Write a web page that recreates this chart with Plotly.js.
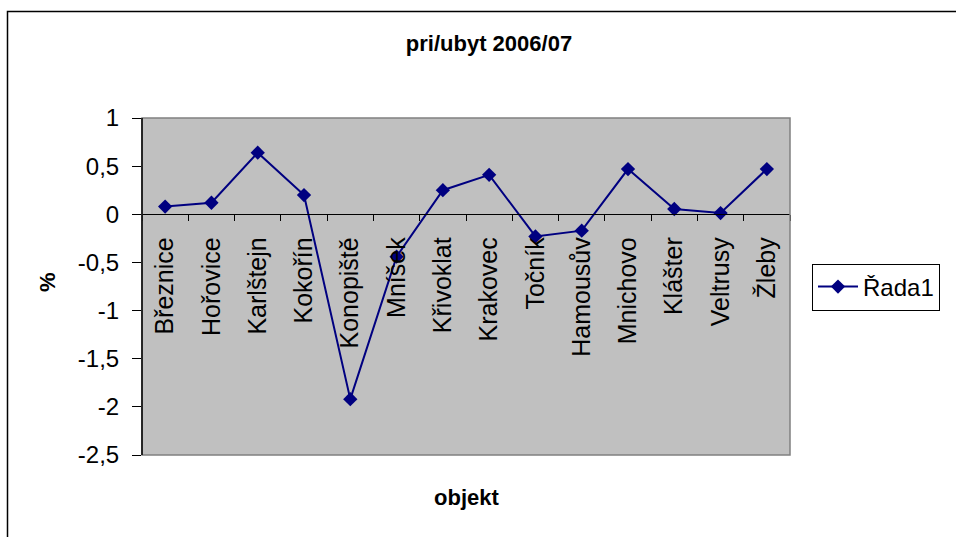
<!DOCTYPE html>
<html>
<head>
<meta charset="utf-8">
<script src="https://cdn.plot.ly/plotly-3.0.1.min.js"></script>
<style>html,body{margin:0;padding:0;background:#fff;}#chart{width:956px;height:537px;}</style>
</head>
<body>
<div id="chart"></div>
<script>
const categories = ["Březnice","Hořovice","Karlštejn","Kokořín","Konopiště","Mníšek","Křivoklat","Krakovec","Točník","Hamousův","Mnichovo","Klášter","Veltrusy","Žleby"];
const values = [0.08, 0.12, 0.64, 0.20, -1.92, -0.44, 0.25, 0.41, -0.23, -0.17, 0.47, 0.055, 0.013, 0.47];
const seriesName = "Řada1";
const yTickVals = [1, 0.5, 0, -0.5, -1, -1.5, -2, -2.5];
const yTickText = ["1", "0,5", "0", "-0,5", "-1", "-1,5", "-2", "-2,5"];
const titleText = "pri/ubyt 2006/07";
const xTitle = "objekt";
const yTitle = "%";

const W = 956, H = 537;
const L = 142, R = 790, T = 118, B = 455;
const pw = R - L, ph = B - T;
const px = x => (x - L) / pw;
const py = y => (B - y) / ph;
const yMin = -2.5, yMax = 1;
const FONT = "Liberation Sans, Arial, sans-serif";

const trace = {
  x: categories,
  y: values,
  type: "scatter",
  mode: "lines+markers",
  name: seriesName,
  line: {color: "#000080", width: 2},
  marker: {symbol: "diamond", size: 11, color: "#000080"}
};

const layout = {
  width: W, height: H,
  margin: {l: L, r: W - R, t: T, b: H - B, pad: 0},
  paper_bgcolor: "#ffffff",
  plot_bgcolor: "#c0c0c0",
  font: {family: FONT, color: "#000"},
  showlegend: true,
  title: {
    text: "<b>" + titleText + "</b>",
    font: {family: FONT, size: 22, color: "#000"},
    xref: "container", yref: "container",
    x: 489 / W, xanchor: "center",
    y: 1 - 43 / H, yanchor: "middle"
  },
  xaxis: {
    type: "category",
    range: [-0.5, categories.length - 0.5],
    anchor: "free",
    position: (0 - yMin) / (yMax - yMin),
    showline: true, linecolor: "#000", linewidth: 1,
    ticks: "outside", ticklen: 6, tickcolor: "#000", tickwidth: 1,
    tickson: "boundaries",
    tickangle: -90,
    ticklabelstandoff: 12,
    tickfont: {family: FONT, size: 25, color: "#000"},
    showgrid: false, zeroline: false,
    fixedrange: true
  },
  yaxis: {
    range: [yMin, yMax],
    tickvals: yTickVals,
    ticktext: yTickText,
    ticks: "outside", ticklen: 9, tickcolor: "#000", tickwidth: 1,
    ticklabelstandoff: 8,
    tickfont: {family: FONT, size: 24, color: "#000"},
    showline: false,
    showgrid: false, zeroline: false,
    fixedrange: true
  },
  legend: {
    x: px(812), xanchor: "left",
    y: py(287), yanchor: "middle",
    bgcolor: "#ffffff",
    bordercolor: "#000", borderwidth: 1,
    font: {family: FONT, size: 24, color: "#000"},
    itemwidth: 40
  },
  shapes: [
    {type: "rect", xref: "paper", yref: "paper", x0: 0, x1: 1, y0: 0, y1: 1,
     line: {color: "#808080", width: 1.5}, fillcolor: "rgba(0,0,0,0)", layer: "above"},
    {type: "line", xref: "paper", yref: "paper", x0: 0, x1: 0, y0: 0, y1: 1,
     line: {color: "#000", width: 1.5}, layer: "above"},
    {type: "rect", xref: "paper", yref: "paper", x0: px(7.5), x1: px(975), y0: py(560), y1: py(11.5),
     line: {color: "#000", width: 1.5}, fillcolor: "rgba(0,0,0,0)", layer: "above"}
  ],
  annotations: [
    {text: "<b>" + xTitle + "</b>", xref: "paper", yref: "paper", x: 0.5, y: py(497),
     xanchor: "center", yanchor: "middle", showarrow: false,
     font: {family: FONT, size: 22, color: "#000"}},
    {text: "<b>" + yTitle + "</b>", xref: "paper", yref: "paper", x: px(47), y: py(282),
     xanchor: "center", yanchor: "middle", showarrow: false, textangle: -90,
     font: {family: FONT, size: 22, color: "#000"}}
  ]
};

Plotly.newPlot("chart", [trace], layout, {displayModeBar: false, staticPlot: true});
</script>
</body>
</html>
